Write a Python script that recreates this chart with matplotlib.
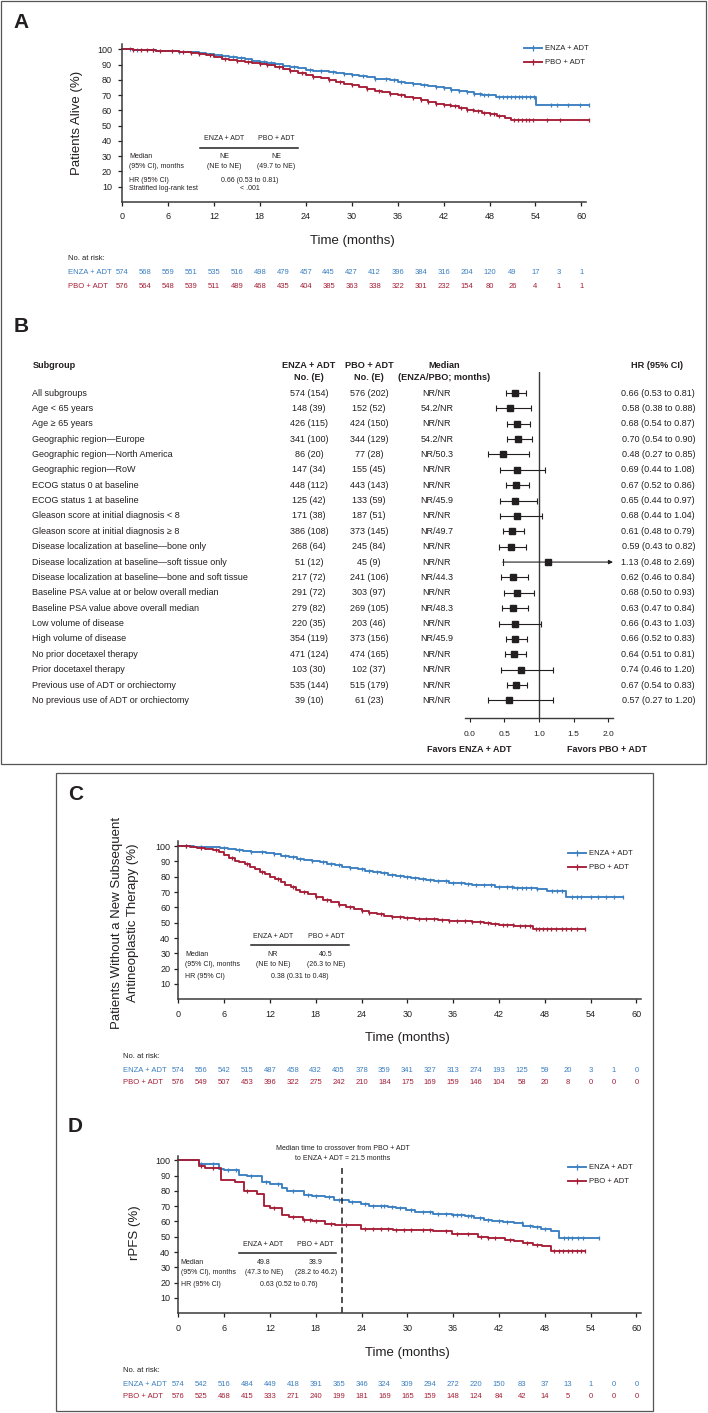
import numpy as np
import matplotlib
matplotlib.use('Agg')
import matplotlib.pyplot as plt
from matplotlib import transforms
from matplotlib.lines import Line2D
from matplotlib.patches import Rectangle

plt.rcParams['font.family'] = ['Liberation Sans', 'DejaVu Sans']

BLUE = '#3a7fc1'
RED = '#a51d36'
INK = '#231f20'
W, H = 708, 1413

risk_months = [0, 3, 6, 9, 12, 15, 18, 21, 24, 27, 30, 33, 36, 39, 42, 45, 48, 51, 54, 57, 60]
arms = ['ENZA + ADT', 'PBO + ADT']

# ---- panel A: overall survival
a_enza_t = [0, 1.5, 3, 4.5, 6, 7.5, 9, 10, 11, 12, 13, 14, 15, 16, 17, 18, 19, 20, 21, 22, 23, 24, 25, 26, 27,
            28, 29, 30, 31, 32, 33, 34, 35, 36, 37, 38, 39, 40, 41, 42, 43, 44, 45, 46, 47, 48.9, 54.1]
a_enza_s = [100, 99.8, 99.5, 99.2, 98.9, 98.5, 98, 97.6, 97.2, 96.5, 95.8, 95.2, 94.3, 93.4, 92.6, 91.6, 90.9,
            90.1, 89.4, 88.5, 87.6, 86.6, 86.0, 85.5, 84.9, 84.3, 83.6, 82.9, 82.3, 81.6, 80.9, 80.4, 79.7, 78.8,
            78.0, 77.6, 76.9, 76.0, 75.4, 74.5, 73.5, 72.6, 71.8, 71.0, 70.4, 68.7, 63.5]
a_enza_end = 61.0
a_enza_cens = [1, 2, 4, 7.5, 12, 13, 14.5, 15.5, 17, 18.5, 19.5, 21, 22.5, 24.5, 26, 27.5, 29, 30, 31.5, 33, 34.5,
               35.5, 36.5, 38, 39.5, 41, 42, 43, 44, 45, 46, 46.8, 47.3, 47.8, 49.3, 49.8, 50.3, 50.8, 51.3, 51.8,
               52.3, 52.8, 53.3, 53.8, 56, 56.8, 58.3, 59.8, 61]
a_pbo_t = [0, 1.5, 3, 4.5, 6, 7.5, 9, 10, 11, 12, 13, 14, 15, 16, 17, 18, 19, 20, 21, 22, 23, 24, 25, 26, 27,
           28, 29, 30, 31, 32, 33, 34, 35, 36, 37, 38, 39, 40, 41, 42, 43, 44, 45, 46, 47, 48, 49, 50, 50.8]
a_pbo_s = [100, 99.8, 99.5, 99.2, 98.8, 98.3, 97.6, 97.0, 96.2, 94.8, 94.0, 93.1, 92.3, 91.6, 90.9, 90.2, 89.5,
           88.2, 87.0, 85.8, 84.6, 83.3, 82.0, 81.0, 79.9, 78.6, 77.5, 76.4, 75.3, 74.0, 72.8, 71.8, 70.6, 69.8,
           68.9, 67.8, 66.7, 65.6, 64.5, 63.6, 62.6, 61.6, 60.5, 59.4, 58.6, 57.9, 56.6, 55.3, 53.7]
a_pbo_end = 61.0
a_pbo_cens = [1.5, 2.5, 3.2, 4, 5, 6.5, 8, 9, 10, 11.5, 13.5, 15, 16.5, 18, 19, 20.5, 22, 23.5, 25, 27, 28.5, 30,
              32, 33.5, 35, 36.5, 38, 39, 40, 41, 42, 42.8, 43.5, 44.3, 45, 45.8, 46.5, 47.3, 48, 48.6, 49.3,
              51.2, 51.7, 52.2, 52.7, 53.2, 53.7, 55.5, 57.2, 61]
a_risk_enza = [574, 568, 559, 551, 535, 516, 498, 479, 457, 445, 427, 412, 396, 384, 316, 204, 120, 49, 17, 3, 1]
a_risk_pbo = [576, 564, 548, 539, 511, 489, 468, 435, 404, 385, 363, 338, 322, 301, 232, 154, 80, 26, 4, 1, 1]
a_median = ['NE', 'NE']
a_median_ci = ['(NE to NE)', '(49.7 to NE)']
a_hr = '0.66 (0.53 to 0.81)'
a_p = '< .001'

# ---- panel B: forest plot
subgroups = ['All subgroups', 'Age < 65 years', 'Age \u2265 65 years', 'Geographic region\u2014Europe',
             'Geographic region\u2014North America', 'Geographic region\u2014RoW', 'ECOG status 0 at baseline',
             'ECOG status 1 at baseline', 'Gleason score at initial diagnosis < 8',
             'Gleason score at initial diagnosis \u2265 8', 'Disease localization at baseline\u2014bone only',
             'Disease localization at baseline\u2014soft tissue only',
             'Disease localization at baseline\u2014bone and soft tissue',
             'Baseline PSA value at or below overall median', 'Baseline PSA value above overall median',
             'Low volume of disease', 'High volume of disease', 'No prior docetaxel therapy',
             'Prior docetaxel therapy', 'Previous use of ADT or orchiectomy',
             'No previous use of ADT or orchiectomy']
enza_ne = ['574 (154)', '148 (39)', '426 (115)', '341 (100)', '86 (20)', '147 (34)', '448 (112)', '125 (42)',
           '171 (38)', '386 (108)', '268 (64)', '51 (12)', '217 (72)', '291 (72)', '279 (82)', '220 (35)',
           '354 (119)', '471 (124)', '103 (30)', '535 (144)', '39 (10)']
pbo_ne = ['576 (202)', '152 (52)', '424 (150)', '344 (129)', '77 (28)', '155 (45)', '443 (143)', '133 (59)',
          '187 (51)', '373 (145)', '245 (84)', '45 (9)', '241 (106)', '303 (97)', '269 (105)', '203 (46)',
          '373 (156)', '474 (165)', '102 (37)', '515 (179)', '61 (23)']
medians = ['NR/NR', '54.2/NR', 'NR/NR', '54.2/NR', 'NR/50.3', 'NR/NR', 'NR/NR', 'NR/45.9', 'NR/NR', 'NR/49.7',
           'NR/NR', 'NR/NR', 'NR/44.3', 'NR/NR', 'NR/48.3', 'NR/NR', 'NR/45.9', 'NR/NR', 'NR/NR', 'NR/NR', 'NR/NR']
hr = [0.66, 0.58, 0.68, 0.70, 0.48, 0.69, 0.67, 0.65, 0.68, 0.61, 0.59, 1.13, 0.62, 0.68, 0.63, 0.66, 0.66,
      0.64, 0.74, 0.67, 0.57]
hr_lo = [0.53, 0.38, 0.54, 0.54, 0.27, 0.44, 0.52, 0.44, 0.44, 0.48, 0.43, 0.48, 0.46, 0.50, 0.47, 0.43, 0.52,
         0.51, 0.46, 0.54, 0.27]
hr_hi = [0.81, 0.88, 0.87, 0.90, 0.85, 1.08, 0.86, 0.97, 1.04, 0.79, 0.82, 2.69, 0.84, 0.93, 0.84, 1.03, 0.83,
         0.81, 1.20, 0.83, 1.20]
hr_ticks = [0.0, 0.5, 1.0, 1.5, 2.0]

# ---- panel C: time to subsequent antineoplastic therapy
c_enza_t = [0, 2, 4, 5.5, 6.5, 7.5, 8.5, 9.5, 10.5, 11.5, 12.5, 13.5, 14.5, 15.5, 16.5, 17.5, 18.5, 19.5, 20.5,
            21.5, 22.5, 23.5, 24.5, 25.5, 26.5, 27.5, 28.5, 29.5, 30.5, 31.5, 32.5, 33.5, 34.5, 35.5, 36.5,
            37.5, 38.5, 39.5, 40.5, 41.5, 42.5, 44, 45.5, 47, 48.3, 50.8]
c_enza_s = [100, 99.7, 99.4, 99.0, 98.2, 97.4, 97.0, 96.4, 95.8, 95.3, 94.6, 93.6, 93.0, 91.8, 91.0, 90.2, 89.3,
            88.6, 87.8, 86.3, 85.5, 84.9, 83.6, 83.3, 82.2, 81.4, 80.6, 79.9, 79.2, 78.4, 77.8, 77.3, 76.9, 76.2,
            75.8, 75.3, 74.9, 74.6, 74.3, 73.6, 73.1, 72.7, 72.5, 72.3, 70.9, 66.5]
c_enza_end = 58.2
c_enza_cens = [1, 3, 6, 8, 9.5, 11, 12.5, 14, 15, 16, 17.5, 19, 20, 21, 22.5, 24, 25, 26, 27, 28, 29, 30, 31, 32,
               33, 34, 35, 36, 37, 38, 39, 40, 41, 42, 43, 43.7, 44.4, 45, 45.6, 46.2, 47, 49, 49.6, 50.2, 51.6,
               52.2, 52.8, 54, 55, 56, 57, 58.2]
c_pbo_t = [0, 1.5, 2.5, 3.5, 4.5, 5.3, 6, 6.7, 7.4, 8, 8.7, 9.4, 10, 10.7, 11.4, 12, 12.7, 13.4, 14, 14.7, 15.4,
           16, 17, 18, 19, 20, 21, 22, 23, 24, 25, 26, 27, 28, 29.5, 31, 33, 34, 35.5, 37, 38.5, 40, 41, 42, 44,
           46.4]
c_pbo_s = [100, 99.6, 99.0, 98.3, 97.3, 96.0, 94.0, 92.3, 90.3, 89.3, 88.0, 86.6, 84.8, 83.2, 81.6, 80.0, 78.4,
           76.3, 74.8, 73.0, 71.3, 70.0, 68.6, 66.7, 65.0, 63.4, 61.6, 60.2, 59.2, 57.8, 56.6, 55.4, 54.5, 53.5,
           53.0, 52.7, 52.2, 51.6, 51.2, 50.8, 50.6, 50.0, 49.3, 48.8, 47.8, 45.7]
c_pbo_end = 53.3
c_pbo_cens = [1, 3, 5, 7, 9, 11, 13, 15, 16.5, 18, 19.5, 21, 22.5, 24, 25, 26.5, 28, 29, 30, 31.5, 32.5, 33.5,
              34.5, 35.5, 36.5, 37.5, 38.5, 39.5, 40.5, 41.5, 42.5, 43, 43.8, 44.8, 45.4, 46, 46.8, 47.3, 47.8,
              48.3, 48.8, 49.5, 50.2, 50.8, 51.4, 52.2, 53.3]
c_risk_enza = [574, 556, 542, 515, 487, 458, 432, 405, 378, 359, 341, 327, 313, 274, 193, 125, 59, 20, 3, 1, 0]
c_risk_pbo = [576, 549, 507, 453, 396, 322, 275, 242, 210, 184, 175, 169, 159, 146, 104, 58, 20, 8, 0, 0, 0]
c_median = ['NR', '40.5']
c_median_ci = ['(NE to NE)', '(26.3 to NE)']
c_hr = '0.38 (0.31 to 0.48)'

# ---- panel D: rPFS
d_enza_t = [0, 2.7, 3.5, 5.3, 6, 8, 9, 10.9, 12, 13.6, 14.3, 16.5, 17.5, 19.2, 20.4, 22.3, 23.9, 25, 27.5, 28.5,
            29.8, 31, 33.4, 35.8, 37.5, 38.7, 40, 41.1, 42.5, 44, 45.2, 46.4, 47.5, 48.8, 49.9]
d_enza_s = [100, 97.8, 97.3, 94.5, 93.8, 90.5, 89.7, 85.5, 84.2, 82.0, 80.0, 77.5, 76.8, 76.3, 74.0, 72.5, 71.3,
            70.4, 69.6, 68.5, 67.4, 66.5, 64.6, 64.1, 63.4, 62.6, 61.2, 60.2, 59.5, 58.7, 57.3, 56.5, 55.0, 53.9,
            49.3]
d_enza_end = 55.1
d_enza_cens = [3, 4.5, 6.5, 7.5, 9.5, 11.5, 13, 15, 17, 18, 19.8, 21, 22.8, 24.5, 25.5, 26.5, 27, 28, 29, 30.5,
               32, 33, 34, 35, 36, 36.5, 37, 38, 38.3, 39.5, 40.5, 42, 43, 45, 46, 47, 48, 50.5, 51, 51.5, 52.3,
               53, 55.1]
d_pbo_t = [0, 2.7, 3.5, 5.6, 7.4, 8.6, 10.3, 11.2, 12, 13.6, 14.5, 16.3, 17.5, 19.2, 20.5, 21.6, 23.9, 26, 28.1,
           31, 33.4, 35.8, 37.5, 39.3, 40.5, 42.8, 44, 45.2, 46.4, 47.6, 48.8]
d_pbo_s = [100, 96.1, 94.8, 86.9, 85.5, 80.0, 78.0, 70.0, 69.0, 64.1, 63.0, 60.9, 60.5, 58.5, 58.0, 57.6, 55.0,
           54.8, 54.6, 54.2, 53.5, 52.0, 51.5, 49.8, 49.0, 48.0, 47.0, 45.9, 44.8, 44.1, 40.4]
d_pbo_end = 53.3
d_pbo_cens = [3, 4.5, 9, 12.5, 15, 16.5, 17.2, 18, 20, 22, 24.5, 25.5, 26.5, 27.5, 28.5, 29.5, 30.5, 32, 33, 35,
              36.5, 38, 39.6, 40.5, 41.5, 43.5, 45.7, 47, 49.2, 49.8, 50.4, 51, 51.6, 52.2, 52.8, 53.3]
d_risk_enza = [574, 542, 516, 484, 449, 418, 391, 365, 346, 324, 309, 294, 272, 220, 150, 83, 37, 13, 1, 0, 0]
d_risk_pbo = [576, 525, 468, 415, 333, 271, 240, 199, 181, 169, 165, 159, 148, 124, 84, 42, 14, 5, 0, 0, 0]
d_median = ['49.8', '38.9']
d_median_ci = ['(47.3 to NE)', '(28.2 to 46.2)']
d_hr = '0.63 (0.52 to 0.76)'
crossover = 21.5


fig = plt.figure(figsize=(W / 100, H / 100), dpi=100)


def fx(x):
    return x / W


def fy(y):
    return 1 - y / H


def rect(l, t, r, b):
    return [fx(l), fy(b), (r - l) / W, (b - t) / H]


def ft(x, y, s, ha='left', size=5, **kw):
    kw.setdefault('color', INK)
    return fig.text(fx(x), fy(y), s, ha=ha, va='center', fontsize=size, **kw)


def hline(x1, x2, y, lw=1.1):
    fig.add_artist(Line2D([fx(x1), fx(x2)], [fy(y), fy(y)], transform=fig.transFigure, lw=lw, color=INK))


def km_axes(l, t, r, b, ytop, ypad):
    ax = fig.add_axes(rect(l, t, r, b))
    ax.patch.set_alpha(0)
    ax.set_xlim(0, 60.6)
    ax.set_ylim(0, ytop)
    ax.spines[['top', 'right']].set_visible(False)
    for sp in ['left', 'bottom']:
        ax.spines[sp].set_linewidth(1.1)
        ax.spines[sp].set_color('#3a3a3a')
    ax.set_xticks(range(0, 61, 6))
    ax.set_yticks(range(10, 101, 10))
    ax.tick_params(length=3, width=0.9, labelsize=6.5, colors=INK)
    ax.tick_params(axis='x', pad=4.5)
    ax.tick_params(axis='y', pad=ypad)
    return ax


def km(ax, t, s, end, cens, color):
    tt = list(t) + [end]
    ss = list(s) + [s[-1]]
    ax.step(tt, ss, where='post', color=color, lw=1.35, clip_on=False)
    idx = np.searchsorted(tt, cens, side='right') - 1
    cy = np.array(ss)[idx]
    ax.plot(cens, cy, ls='none', marker='|', ms=3.4, mew=0.9, color=color, clip_on=False)
    return Line2D([], [], color=color, lw=1.35, marker='|', ms=4, mew=0.9)


def km_legend(ax, handles, x, y):
    ax.legend(handles, arms, loc='upper left', numpoints=1,
              bbox_to_anchor=(fx(x), fy(y)), bbox_transform=fig.transFigure, frameon=False,
              fontsize=5.5, handlelength=2.3, handletextpad=0.5, borderpad=0, borderaxespad=0,
              labelspacing=0.85, labelcolor=INK)


def at_risk(ax, x_label, y_head, y1, y2, r1, r2):
    ft(x_label, y_head, 'No. at risk:', size=5.5)
    ft(x_label, y1, arms[0], size=5.5, color=BLUE)
    ft(x_label, y2, arms[1], size=5.5, color=RED)
    tr = transforms.blended_transform_factory(ax.transData, fig.transFigure)
    for m, n1, n2 in zip(risk_months, r1, r2):
        ax.text(m, fy(y1), str(n1), transform=tr, ha='center', va='center', fontsize=5.5, color=BLUE)
        ax.text(m, fy(y2), str(n2), transform=tr, ha='center', va='center', fontsize=5.5, color=RED)


# frames
fig.add_artist(Rectangle((fx(1), fy(764)), 705 / W, 763 / H, transform=fig.transFigure,
                         fill=False, lw=0.9, ec='#555555'))
fig.add_artist(Rectangle((fx(55.5), fy(1411)), (653 - 55.5) / W, (1411 - 773) / H, transform=fig.transFigure,
                         fill=False, lw=0.9, ec='#555555'))

# ================= A
ft(13, 22.5, 'A', size=15, weight='bold')
axA = km_axes(122, 44, 586, 202, 103.5, 4.3)
hA1 = km(axA, a_enza_t, a_enza_s, a_enza_end, a_enza_cens, BLUE)
hA2 = km(axA, a_pbo_t, a_pbo_s, a_pbo_end, a_pbo_cens, RED)
km_legend(axA, [hA1, hA2], 524, 45)
ft(77, 123, 'Patients Alive (%)', ha='center', size=9.5, rotation=90)
ft(352, 241, 'Time (months)', ha='center', size=9.5)
ft(224, 139, arms[0], ha='center')
ft(276, 139, arms[1], ha='center')
hline(200, 298, 148)
ft(129, 157, 'Median')
ft(129, 166, '(95% CI), months')
for xc, med, ci in zip([224, 276], a_median, a_median_ci):
    ft(xc, 157, med, ha='center')
    ft(xc, 166, ci, ha='center')
ft(129, 180, 'HR (95% CI)')
ft(250, 180, a_hr, ha='center')
ft(129, 189, 'Stratified log-rank test')
ft(250, 189, a_p, ha='center')
at_risk(axA, 68, 259, 272, 286, a_risk_enza, a_risk_pbo)

# ================= B
ft(14, 326, 'B', size=15, weight='bold')
n = len(subgroups)
row0, dy = 393, 15.37
axB = fig.add_axes(rect(465, 372, 613, 717.7))
axB.patch.set_alpha(0)
xmin, xmax = -0.065, 2.065
axB.set_xlim(xmin, xmax)
axB.set_ylim((717.7 - row0) / dy, -(row0 - 372) / dy)
axB.spines[['top', 'right', 'left']].set_visible(False)
axB.spines['bottom'].set_linewidth(1.0)
axB.spines['bottom'].set_color('#3a3a3a')
axB.set_yticks([])
axB.set_xticks(hr_ticks, [f'{v:.1f}' for v in hr_ticks])
axB.tick_params(axis='x', length=3, width=0.8, labelsize=6, pad=6.3, colors=INK)
axB.axvline(1.0, color='#3a3a3a', lw=1.0)
rows = np.arange(n)
for i in rows:
    if hr_hi[i] > xmax:
        axB.annotate('', xy=(xmax, i), xytext=(hr_lo[i], i),
                     arrowprops=dict(arrowstyle='-|>', lw=0.8, color=INK, mutation_scale=6,
                                     shrinkA=0, shrinkB=0), annotation_clip=False)
        axB.plot([hr_lo[i], hr_lo[i]], [i - 0.2, i + 0.2], color=INK, lw=0.8)
    else:
        axB.errorbar(hr[i], i, xerr=[[hr[i] - hr_lo[i]], [hr_hi[i] - hr[i]]], fmt='none', ecolor=INK,
                     elinewidth=0.8, capsize=2, capthick=0.8)
axB.plot(hr, rows, ls='none', marker='s', ms=3.8, color=INK, zorder=5)

trB = transforms.blended_transform_factory(fig.transFigure, axB.transData)
for i in rows:
    axB.text(fx(32.5), i, subgroups[i], transform=trB, ha='left', va='center', fontsize=6.5, color=INK)
    axB.text(fx(309), i, enza_ne[i], transform=trB, ha='center', va='center', fontsize=6.5, color=INK)
    axB.text(fx(369), i, pbo_ne[i], transform=trB, ha='center', va='center', fontsize=6.5, color=INK)
    axB.text(fx(437), i, medians[i], transform=trB, ha='center', va='center', fontsize=6.5, color=INK)
    axB.text(fx(695), i, f'{hr[i]:.2f} ({hr_lo[i]:.2f} to {hr_hi[i]:.2f})', transform=trB,
             ha='right', va='center', fontsize=6.5, color=INK)
ft(32.5, 366, 'Subgroup', size=6.6, weight='bold')
ft(309, 366, 'ENZA + ADT', ha='center', size=6.6, weight='bold')
ft(309, 377, 'No. (E)', ha='center', size=6.6, weight='bold')
ft(369, 366, 'PBO + ADT', ha='center', size=6.6, weight='bold')
ft(369, 377, 'No. (E)', ha='center', size=6.6, weight='bold')
ft(444, 366, 'Median', ha='center', size=6.6, weight='bold')
ft(444, 377, '(ENZA/PBO; months)', ha='center', size=6.6, weight='bold')
ft(683, 366, 'HR (95% CI)', ha='right', size=6.6, weight='bold')
ft(469.5, 749, 'Favors ENZA + ADT', ha='center', size=6.5, weight='bold')
ft(607, 749, 'Favors PBO + ADT', ha='center', size=6.5, weight='bold')

# ================= C
ft(68, 795, 'C', size=15, weight='bold')
axC = km_axes(178.3, 841, 641, 999.3, 103.3, 2.8)
hC1 = km(axC, c_enza_t, c_enza_s, c_enza_end, c_enza_cens, BLUE)
hC2 = km(axC, c_pbo_t, c_pbo_s, c_pbo_end, c_pbo_cens, RED)
km_legend(axC, [hC1, hC2], 568, 850)
fig.text(fx(125), fy(923), 'Patients Without a New Subsequent\nAntineoplastic Therapy (%)', rotation=90,
         ha='center', va='center', multialignment='center', linespacing=1.45, fontsize=9.5, color=INK)
ft(407.6, 1038, 'Time (months)', ha='center', size=9.5)
ft(273, 937, arms[0], ha='center')
ft(326, 937, arms[1], ha='center')
hline(250.5, 348.5, 945)
ft(185, 954, 'Median')
ft(185, 964, '(95% CI), months')
for xc, med, ci in zip([273, 326], c_median, c_median_ci):
    ft(xc, 954, med, ha='center')
    ft(xc, 964, ci, ha='center')
ft(185, 977, 'HR (95% CI)')
ft(300, 977, c_hr, ha='center')
at_risk(axC, 123, 1057, 1070, 1083, c_risk_enza, c_risk_pbo)

# ================= D
ft(68, 1126, 'D', size=15, weight='bold')
axD = km_axes(178.3, 1156, 641, 1313.3, 102.8, 2.8)
hD1 = km(axD, d_enza_t, d_enza_s, d_enza_end, d_enza_cens, BLUE)
hD2 = km(axD, d_pbo_t, d_pbo_s, d_pbo_end, d_pbo_cens, RED)
km_legend(axD, [hD1, hD2], 568, 1164)
axD.axvline(crossover, ymin=0, ymax=0.925, color=INK, lw=1.1, ls=(0, (4, 2.5)))
ft(343, 1149, 'Median time to crossover from PBO + ADT', ha='center')
ft(343, 1158, f'to ENZA + ADT = {crossover} months', ha='center')
ft(135, 1233, 'rPFS (%)', ha='center', size=9.5, rotation=90)
ft(407.6, 1353, 'Time (months)', ha='center', size=9.5)
ft(263, 1244, arms[0], ha='center')
ft(315, 1244, arms[1], ha='center')
hline(239, 336, 1253)
ft(180.6, 1263, 'Median')
ft(180.6, 1272, '(95% CI), months')
for xc, med, ci in zip([264, 316], d_median, d_median_ci):
    ft(xc, 1263, med, ha='center')
    ft(xc, 1272, ci, ha='center')
ft(180.6, 1285, 'HR (95% CI)')
ft(289, 1285, d_hr, ha='center')
at_risk(axD, 123, 1370, 1384, 1397, d_risk_enza, d_risk_pbo)

fig.savefig('out.png', dpi=100)
